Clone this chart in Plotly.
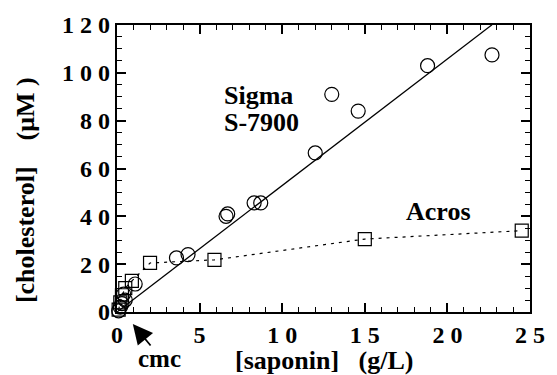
import plotly.graph_objects as go

# Sigma S-7900 data (saponin g/L, cholesterol uM)
sigma_x = [0.1, 0.2, 0.3, 0.5, 0.4, 1.1, 3.6, 4.3, 6.6, 6.7, 8.3, 8.7, 12.0, 13.0, 14.6, 18.8, 22.7]
sigma_y = [0.5, 2.0, 3.5, 5.0, 7.5, 11.7, 22.6, 24.0, 40.0, 41.0, 45.6, 45.6, 66.5, 91.0, 84.0, 103.0, 107.5]

# Acros data
acros_x = [0.1, 0.2, 0.3, 0.5, 0.9, 2.0, 5.9, 15.0, 24.5]
acros_y = [1.0, 4.0, 7.0, 10.0, 13.0, 20.5, 21.8, 30.5, 34.0]

# linear fit for Sigma
fit_x = [0.0, 22.7]
fit_slope = 5.29
fit_y = [fit_slope * v for v in fit_x]

x_ticks = [0, 5, 10, 15, 20, 25]
x_ticktext = ["0", "5", "1 0", "1 5", "2 0", "2 5"]
y_ticks = [0, 20, 40, 60, 80, 100, 120]
y_ticktext = ["0", "2 0", "4 0", "6 0", "8 0", "1 0 0", "1 2 0"]

FONT = "Liberation Serif"

fig = go.Figure()
fig.add_trace(go.Scatter(x=fit_x, y=fit_y, mode="lines",
                         line=dict(color="black", width=1.3), showlegend=False))
fig.add_trace(go.Scatter(x=acros_x, y=acros_y, mode="lines",
                         line=dict(color="black", width=1.2, dash="3px,5px"),
                         showlegend=False))
fig.add_trace(go.Scatter(x=sigma_x, y=sigma_y, mode="markers",
                         marker=dict(symbol="circle-open", size=14, color="black",
                                     line=dict(width=1.2)),
                         showlegend=False, cliponaxis=False))
fig.add_trace(go.Scatter(x=acros_x, y=acros_y, mode="markers",
                         marker=dict(symbol="square-open", size=13, color="black",
                                     line=dict(width=1.2)),
                         showlegend=False, cliponaxis=False))

tickfont = dict(family=FONT, size=24, color="black", weight="bold")
axis_common = dict(showline=True, linewidth=2.2, linecolor="black", mirror="allticks",
                   ticks="inside", ticklen=9, tickwidth=1.5, tickcolor="black",
                   showgrid=False, zeroline=False, tickfont=tickfont)

fig.update_xaxes(range=[0, 25], tickvals=x_ticks, ticktext=x_ticktext,
                 minor=dict(dtick=1, ticks="inside", ticklen=5, tickwidth=1.2,
                            tickcolor="black", showgrid=False),
                 **axis_common)
fig.update_yaxes(range=[0, 120], tickvals=y_ticks, ticktext=y_ticktext,
                 minor=dict(dtick=5, ticks="inside", ticklen=5, tickwidth=1.2,
                            tickcolor="black", showgrid=False),
                 **axis_common)

af = dict(family=FONT, size=26, color="black")
PW, PH, L, T = 418.0, 287.0, 117.0, 25.0


def px(xp):
    return (xp - L) / PW


def py(yp):
    return (T + PH - yp) / PH


annotations = [
    dict(text="<b>Sigma</b>", x=px(223), y=py(95), xref="paper", yref="paper",
         xanchor="left", yanchor="middle", showarrow=False, font=af),
    dict(text="<b>S-7900</b>", x=px(223), y=py(122), xref="paper", yref="paper",
         xanchor="left", yanchor="middle", showarrow=False, font=af),
    dict(text="<b>Acros</b>", x=px(442), y=py(211), xref="paper", yref="paper",
         xanchor="center", yanchor="middle", showarrow=False, font=af),
    dict(text="<b>[saponin]\u00a0\u00a0\u00a0(g/L)</b>", x=px(326), y=py(360),
         xref="paper", yref="paper", xanchor="center", yanchor="middle",
         showarrow=False, font=af),
    dict(text="<b>[cholesterol]\u00a0\u00a0\u00a0\u00a0(μM )</b>", x=px(25), y=py(190),
         xref="paper", yref="paper", xanchor="center", yanchor="middle",
         showarrow=False, textangle=-90, font=af),
    dict(text="<b>cmc</b>", x=px(160), y=py(374.5), xref="paper", yref="paper",
         xanchor="center", yanchor="bottom", showarrow=False,
         font=dict(family=FONT, size=25, color="black")),
    dict(text="", x=px(133), y=py(324), xref="paper", yref="paper", showarrow=True,
         ax=19, ay=23, arrowhead=2, arrowsize=2.2, arrowwidth=1.8, arrowcolor="black"),
]

fig.update_layout(width=557, height=375, margin=dict(l=117, r=22, t=25, b=63),
                  paper_bgcolor="white", plot_bgcolor="white",
                  annotations=annotations, showlegend=False)

fig.write_html("out.html")
